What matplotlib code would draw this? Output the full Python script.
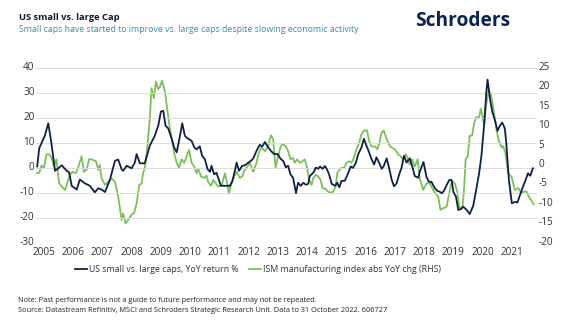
import matplotlib
matplotlib.use("Agg")
import matplotlib.pyplot as plt
import matplotlib.transforms as mtransforms
from matplotlib.lines import Line2D

plt.rcParams['font.family'] = ['Open Sans', 'DejaVu Sans']
plt.rcParams['axes.unicode_minus'] = False

# US small vs. large caps, YoY return % (LHS)
small_large_t = [2004.77, 2004.84, 2005.03, 2005.15, 2005.26, 2005.38, 2005.49, 2005.61, 2005.78, 2005.86,
                 2005.95, 2006.12, 2006.23, 2006.40, 2006.57, 2006.74, 2006.86, 2006.97, 2007.09, 2007.26,
                 2007.43, 2007.54, 2007.66, 2007.71, 2007.83, 2008.00, 2008.11, 2008.17, 2008.28, 2008.45,
                 2008.62, 2008.79, 2008.91, 2009.00, 2009.08, 2009.16, 2009.25, 2009.37, 2009.45, 2009.54,
                 2009.62, 2009.73, 2009.82, 2009.91, 2010.05, 2010.14, 2010.22, 2010.33, 2010.41, 2010.50,
                 2010.60, 2010.68, 2010.73, 2010.82, 2010.90, 2010.98, 2011.05, 2011.19, 2011.36, 2011.44,
                 2011.53, 2011.59, 2011.67, 2011.78, 2011.87, 2011.96, 2012.08, 2012.16, 2012.27, 2012.38,
                 2012.46, 2012.56, 2012.65, 2012.76, 2012.87, 2012.99, 2013.10, 2013.18, 2013.27, 2013.35,
                 2013.43, 2013.52, 2013.62, 2013.69, 2013.78, 2013.87, 2013.96, 2014.04, 2014.09, 2014.21,
                 2014.30, 2014.38, 2014.44, 2014.53, 2014.61, 2014.67, 2014.75, 2014.84, 2014.95, 2015.03,
                 2015.10, 2015.18, 2015.29, 2015.40, 2015.49, 2015.57, 2015.67, 2015.75, 2015.86, 2015.94,
                 2016.03, 2016.12, 2016.20, 2016.29, 2016.37, 2016.46, 2016.55, 2016.62, 2016.72, 2016.81,
                 2016.89, 2016.97, 2017.06, 2017.15, 2017.23, 2017.31, 2017.40, 2017.51, 2017.59, 2017.68,
                 2017.80, 2017.86, 2017.98, 2018.08, 2018.16, 2018.25, 2018.37, 2018.45, 2018.54, 2018.60,
                 2018.68, 2018.77, 2018.86, 2018.94, 2019.00, 2019.09, 2019.17, 2019.25, 2019.34, 2019.46,
                 2019.56, 2019.68, 2019.79, 2019.88, 2019.96, 2020.05, 2020.13, 2020.17, 2020.25, 2020.33,
                 2020.42, 2020.51, 2020.59, 2020.67, 2020.76, 2020.81, 2020.90, 2021.00, 2021.11, 2021.19,
                 2021.26, 2021.36, 2021.47, 2021.55, 2021.63, 2021.72]
small_large_v = [0.7, 8, 13, 18, 9.8, -1, 0, 1.2, -1, -1.5,
                 -7, -8.5, -4.5, -6, -7, -9.6, -8, -8.5, -9.5, -4.5,
                 3, 3.5, -0.5, -1, 1, 0, 2.3, 5.7, 2, 2,
                 9, 13, 17, 22.7, 23, 17, 16, 11.8, 8.4, 6.4,
                 11, 18, 13, 12, 11, 8.4, 7.6, 8.8, 5, 3.7,
                 -0.4, -1.4, 1, -2.4, -1.8, -4.5, -7, -7, -7, -5.2,
                 -1, 2.3, -1, 1, 1.2, 2, 3, 4, 7, 9.4,
                 8.7, 10.5, 8.7, 7, 5.7, 5.7, 3.7, 3, 0.4, 1,
                 -2.4, -3.8, -9.9, -5.8, -7, -5.8, -6.6, -6.2, -3.1, -1.8,
                 0.3, -0.2, 0.7, -0.2, 0.9, -0.2, -2.4, -6.2, -7, -5.8,
                 -7.6, -5, -5, -2, 0.7, 0.2, 2.3, 5.7, 8.4, 11.8,
                 9, 6.4, 3.7, 1.5, 4.4, 2.3, -0.2, 0.9, 4, -0.2,
                 -4.5, -7.2, -6, -2.4, 0.3, 5, 2.3, 4, 1, -3.1,
                 -3.8, -1.0, 2.5, -3.4, -5.4, -5.4, -8, -9, -9.4, -10,
                 -9, -6.7, -4.7, -4.7, -9.4, -11.4, -16.7, -16.3, -15.4, -16.7,
                 -18.3, -15, -8, -2, 5, 17, 31, 35.5, 28, 22.7,
                 19.3, 15, 17, 18.3, 16, 10, -4.7, -14, -13.4, -13.7,
                 -11.4, -8, -4.7, -2, -3, 0]

# ISM manufacturing index abs YoY chg (RHS)
ism_t = [2004.73, 2004.84, 2004.92, 2005.00, 2005.09, 2005.18, 2005.26, 2005.34, 2005.43, 2005.52,
         2005.61, 2005.72, 2005.80, 2005.89, 2005.98, 2006.09, 2006.17, 2006.29, 2006.37, 2006.46,
         2006.55, 2006.66, 2006.78, 2006.86, 2006.91, 2006.97, 2007.09, 2007.20, 2007.31, 2007.43,
         2007.54, 2007.66, 2007.71, 2007.80, 2007.92, 2008.00, 2008.08, 2008.17, 2008.26, 2008.34,
         2008.39, 2008.45, 2008.53, 2008.62, 2008.68, 2008.76, 2008.83, 2008.91, 2008.97, 2009.04,
         2009.14, 2009.23, 2009.31, 2009.39, 2009.45, 2009.54, 2009.62, 2009.71, 2009.80, 2009.88,
         2009.96, 2010.05, 2010.14, 2010.22, 2010.28, 2010.37, 2010.48, 2010.56, 2010.62, 2010.71,
         2010.79, 2010.87, 2010.96, 2011.08, 2011.19, 2011.28, 2011.32, 2011.42, 2011.51, 2011.59,
         2011.70, 2011.78, 2011.87, 2011.96, 2012.04, 2012.16, 2012.27, 2012.35, 2012.44, 2012.56,
         2012.67, 2012.76, 2012.84, 2012.92, 2013.01, 2013.10, 2013.18, 2013.27, 2013.35, 2013.43,
         2013.50, 2013.58, 2013.66, 2013.75, 2013.84, 2013.92, 2014.00, 2014.07, 2014.15, 2014.21,
         2014.30, 2014.38, 2014.46, 2014.53, 2014.61, 2014.72, 2014.80, 2014.89, 2014.98, 2015.03,
         2015.10, 2015.18, 2015.26, 2015.35, 2015.44, 2015.52, 2015.60, 2015.69, 2015.78, 2015.86,
         2015.94, 2016.05, 2016.12, 2016.20, 2016.32, 2016.40, 2016.46, 2016.55, 2016.62, 2016.72,
         2016.81, 2016.89, 2017.00, 2017.11, 2017.19, 2017.28, 2017.38, 2017.45, 2017.51, 2017.59,
         2017.68, 2017.78, 2017.85, 2017.97, 2018.08, 2018.20, 2018.31, 2018.43, 2018.48, 2018.56,
         2018.65, 2018.77, 2018.86, 2018.94, 2019.00, 2019.05, 2019.13, 2019.20, 2019.28, 2019.32,
         2019.36, 2019.42, 2019.49, 2019.56, 2019.64, 2019.72, 2019.79, 2019.87, 2019.94, 2019.98,
         2020.05, 2020.13, 2020.21, 2020.28, 2020.33, 2020.40, 2020.48, 2020.56, 2020.65, 2020.70,
         2020.78, 2020.87, 2020.99, 2021.10, 2021.22, 2021.33, 2021.41, 2021.50, 2021.58, 2021.67,
         2021.75]
ism_v = [-1.9, -1.9, 0, -0.6, 2.9, 2.9, 2, -0.2, 1.6, -4.5,
         -5.4, -6.3, -4.5, -2.4, -1.6, -2, -0.6, 2.4, -1.6, -1.1,
         1.7, 1.5, 1.1, -1.1, 0.2, -3.2, -5, -4.2, -3.3, -4.2,
         -8, -14, -12.3, -14.9, -13.6, -12.6, -12.3, -9.7, -5, -4.6,
         -2, -0.5, 4.2, 12, 19.9, 17.3, 21.6, 19.6, 20.3, 21.8,
         19, 13.8, 9.4, 6.3, 3.3, 0.7, -0.6, 1.6, 0.7, 2.4,
         4, 0.7, -0.2, -2, -0.9, -2.8, -3.2, -2.6, -4.3, -5.2,
         -3.7, -4.5, -5.4, -5, -2, -5, -7.2, -4.5, -2.8, -1.6,
         -3.2, -2.8, -1.1, -0.2, 0.7, -1.6, 0.7, 3.3, 4.6, 3.7,
         5, 7.8, 6.7, -0.6, 2.4, 5, 5.5, 4.9, 3.7, 1.6,
         2, 0.7, 1.6, 0.7, 1.1, 1.6, -0.6, -3.7, -5, -3.2,
         -2.4, -2.8, -3.7, -5.9, -5.9, -6.7, -7, -6.7, -5.4, -2,
         -1.1, -0.6, -0.6, 0.7, 1.1, 0.7, 2, 4.2, 5.9, 8.1,
         9, 9, 6.3, 4.9, 4.9, 4.2, 5.5, 8.5, 9, 6.8,
         5.2, 4.6, 4.2, 2.9, 2.4, 1.6, 2.9, 1.6, 0.2, 1.6,
         -0.2, 1.6, -3.3, -6.3, -4.6, -4.6, -6.3, -7.6, -8, -11.4,
         -11, -10.6, -7.1, -4.2, -4.2, -4.6, -6.7, -10.6, -11.2, -10.2,
         -6.7, 1.6, 2.4, 7.7, 7.7, 11.2, 12.5, 12.1, 14.6, 13.3,
         10.3, 16, 19.6, 18.3, 16.4, 12.9, 9, 6.3, 4.6, 5,
         3.3, -2, -2.9, -6.3, -5.8, -7.1, -6.7, -6.7, -8, -9,
         -10]

year_ticks = list(range(2005, 2022))
left_ticks = [-30, -20, -10, 0, 10, 20, 30, 40]
right_ticks = [-20, -15, -10, -5, 0, 5, 10, 15, 20, 25]

navy = '#0f2144'
green = '#7cc05a'
text_col = '#333333'

fig = plt.figure(figsize=(5.65, 3.27), dpi=100)
W, H = 565, 327
ax = fig.add_axes([36 / W, 1 - 243.3 / H, 501 / W, 175 / H])
ax2 = ax.twinx()

ax.plot(small_large_t, small_large_v, color=navy, lw=1.3, solid_joinstyle='round')
ax2.plot(ism_t, ism_v, color=green, lw=1.3, solid_joinstyle='round')

# blue line on top of the green one
ax.set_zorder(ax2.get_zorder() + 1)
ax.patch.set_visible(False)

ax.set_xlim(2004.73, 2021.86)
ax.set_ylim(-30, 40)
ax2.set_ylim(-20, 25)
ax.set_yticks(left_ticks)
ax2.set_yticks(right_ticks)
ax.set_xticks(year_ticks)
ax.set_xticklabels([str(y) for y in year_ticks])

ax.grid(axis='y', color='#dcdcdc', lw=0.7)
ax.set_axisbelow(True)
for a in (ax, ax2):
    for s in a.spines.values():
        s.set_visible(False)
    a.tick_params(length=0, labelsize=7.2, colors=text_col)
ax.tick_params(axis='y', pad=1)
ax2.tick_params(axis='y', pad=1)
ax.tick_params(axis='x', pad=3)

# tick labels sit slightly above the gridlines
up = mtransforms.ScaledTranslation(0, 2.5 / 100, fig.dpi_scale_trans)
for lab in ax.get_yticklabels() + ax2.get_yticklabels():
    lab.set_transform(lab.get_transform() + up)

renderer = fig.canvas.get_renderer()


# scale a text so it spans the given pixel width
def fit(txt, width_px):
    w = txt.get_window_extent(renderer).width
    txt.set_fontsize(txt.get_fontsize() * width_px / w)


title = fig.text(19 / W, 1 - 17 / H, 'US small vs. large Cap', fontsize=7, fontweight='bold',
                 color='#111a2e', va='center', ha='left')
fit(title, 101)
sub = fig.text(19 / W, 1 - 29 / H, 'Small caps have started to improve vs. large caps despite slowing economic activity',
               fontsize=6.5, color='#3a8da6', va='center', ha='left')
fit(sub, 336)
logo = fig.text(510 / W, 1 - 21 / H, 'Schroders', fontsize=14, fontweight='bold', color='#0a2450',
                va='center', ha='right')
fit(logo, 95)

handles = [Line2D([], [], color=navy, lw=1.3), Line2D([], [], color=green, lw=1.3)]
fig.legend(handles, ['US small vs. large caps, YoY return %', 'ISM manufacturing index abs YoY chg (RHS)'],
           loc='center', bbox_to_anchor=(258 / W, 1 - 270 / H), ncol=2, frameon=False,
           fontsize=6.35, handlelength=1.35, handletextpad=0.2, columnspacing=1.3, labelcolor=text_col)

note = fig.text(18 / W, 1 - 300 / H, 'Note: Past performance is not a guide to future performance and may not be repeated.',
                fontsize=5.3, color='#222222', va='center', ha='left')
fit(note, 300)
src = fig.text(18 / W, 1 - 311 / H, 'Source: Datastream Refinitiv, MSCI and Schroders Strategic Research Unit. Data to 31 October 2022. 606727',
               fontsize=5.3, color='#222222', va='center', ha='left')
fit(src, 370)

fig.savefig('out.png', dpi=100)
